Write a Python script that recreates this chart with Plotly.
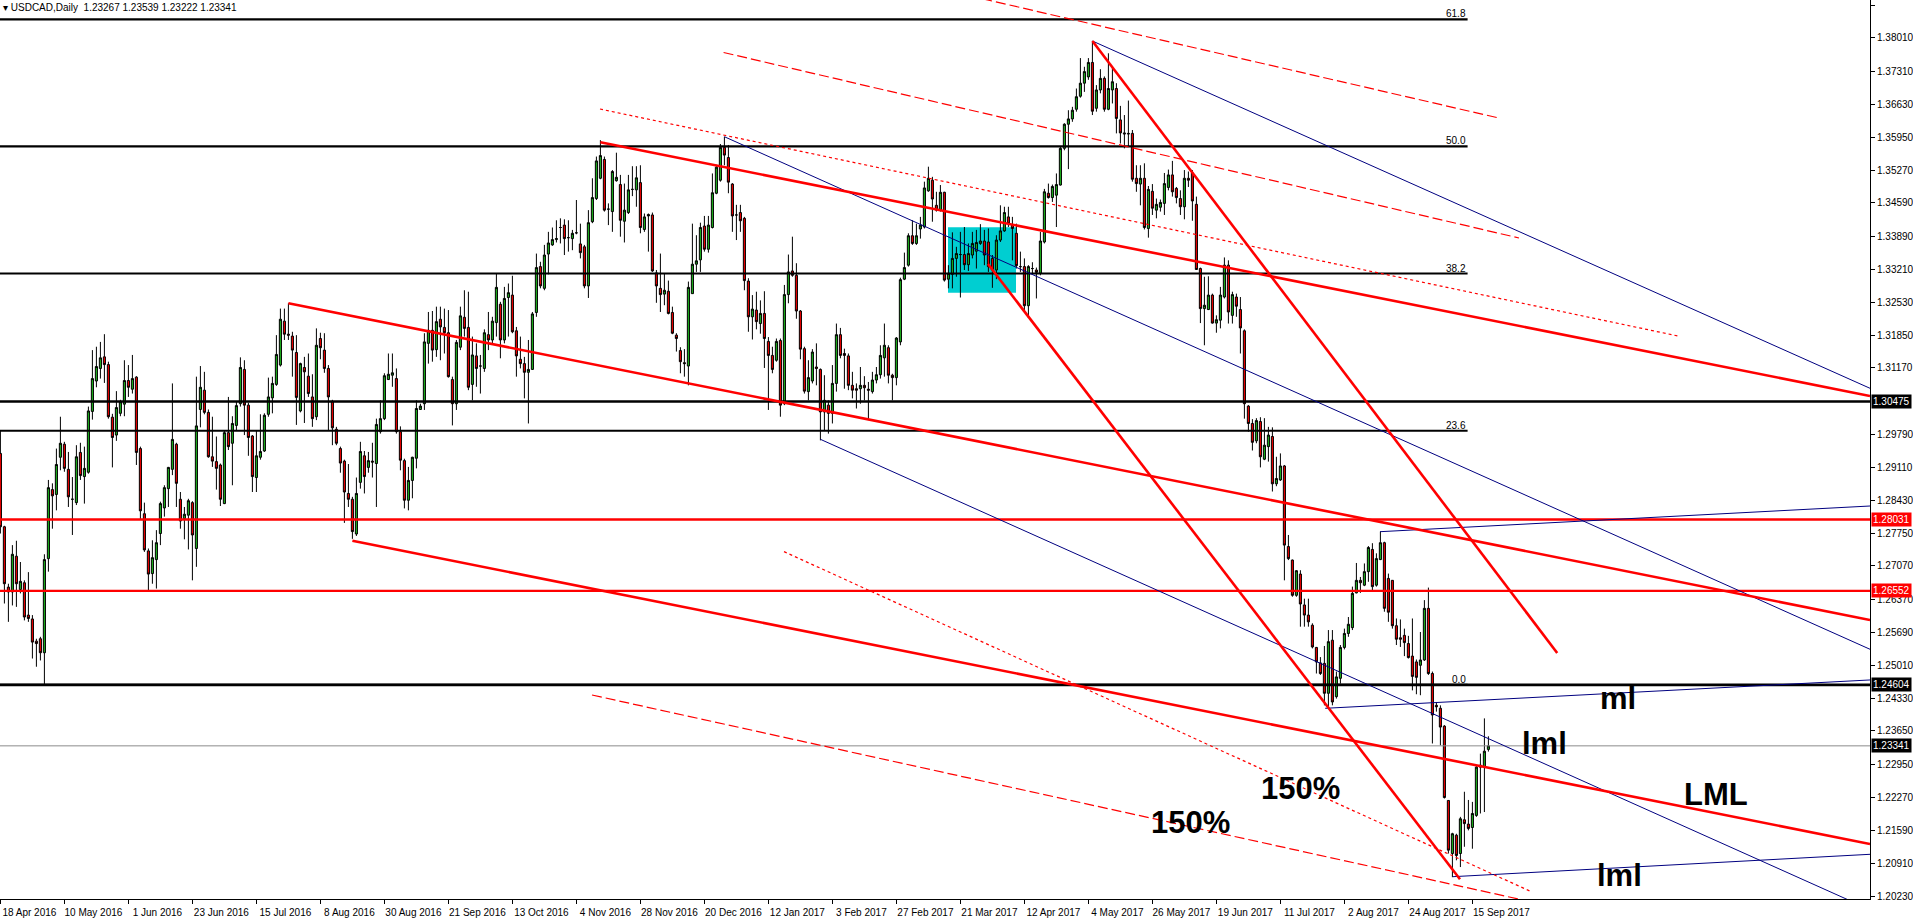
import plotly.graph_objects as go

# ---- axis labels -------------------------------------------------------
tick_labels = ["18 Apr 2016", "10 May 2016", "1 Jun 2016", "23 Jun 2016", "15 Jul 2016",
               "8 Aug 2016", "30 Aug 2016", "21 Sep 2016", "13 Oct 2016", "4 Nov 2016",
               "28 Nov 2016", "20 Dec 2016", "12 Jan 2017", "3 Feb 2017", "27 Feb 2017",
               "21 Mar 2017", "12 Apr 2017", "4 May 2017", "26 May 2017", "19 Jun 2017",
               "11 Jul 2017", "2 Aug 2017", "24 Aug 2017", "15 Sep 2017"]
tick_bars = [0, 16, 32, 48, 64, 80, 96, 112, 128, 144, 160, 176, 192, 208, 224, 240,
             256, 272, 288, 304, 320, 336, 352, 368]
price_ticks = [1.38690, 1.38010, 1.37310, 1.36630, 1.35950, 1.35270, 1.34590, 1.33890,
               1.33210, 1.32530, 1.31850, 1.31170, 1.29790, 1.29110, 1.28430, 1.27750,
               1.27070, 1.26370, 1.25690, 1.25010, 1.24330, 1.23650, 1.22950, 1.22270,
               1.21590, 1.20910, 1.20230]

# ---- USDCAD daily candles (bar 0 = 18 Apr 2016) ---------------------------
opens = [
    1.2940, 1.2788, 1.2663, 1.2653, 1.2727, 1.2658, 1.2672, 1.2605, 1.2597, 1.2551,
    1.2556, 1.2527, 1.2722, 1.2865, 1.2855, 1.2932, 1.2959, 1.2907, 1.2845, 1.2838,
    1.2942, 1.2892, 1.2901, 1.3027, 1.3090, 1.3116, 1.3140, 1.3124, 1.3015, 1.2978,
    1.3023, 1.3042, 1.3091, 1.3073, 1.3098, 1.2950, 1.2815, 1.2738, 1.2691, 1.2720,
    1.2774, 1.2827, 1.2867, 1.2907, 1.2959, 1.2845, 1.2805, 1.2812, 1.2838, 1.2743,
    1.3031, 1.3071, 1.3025, 1.2933, 1.2923, 1.2916, 1.2836, 1.2983, 1.2961, 1.2998,
    1.3043, 1.3114, 1.3040, 1.2976, 1.2890, 1.2932, 1.2945, 1.3021, 1.3055, 1.3083,
    1.3123, 1.3214, 1.3187, 1.3183, 1.3149, 1.3028, 1.3118, 1.3100, 1.3057, 1.3016,
    1.3178, 1.3154, 1.3116, 1.3047, 1.2990, 1.2950, 1.2924, 1.2857, 1.2845, 1.2773,
    1.2880, 1.2935, 1.2911, 1.2924, 1.2919,
    1.2985, 1.3012, 1.3093, 1.3102, 1.3095, 1.2985, 1.2925, 1.2843, 1.2884, 1.2930,
    1.3031, 1.3043, 1.3168, 1.3195, 1.3155, 1.3218, 1.3201, 1.3190, 1.3093, 1.3043,
    1.3160, 1.3222, 1.3201, 1.3083, 1.3142, 1.3121, 1.3116, 1.3186, 1.3175, 1.3211,
    1.3249, 1.3175, 1.3263, 1.3268, 1.3194, 1.3135, 1.3126, 1.3108, 1.3114, 1.3232,
    1.3327, 1.3282, 1.3353, 1.3372, 1.3383, 1.3408, 1.3413, 1.3387, 1.3385, 1.3397,
    1.3374, 1.3368, 1.3287, 1.3420, 1.3468, 1.3510, 1.3549, 1.3446, 1.3441, 1.3505,
    1.3497, 1.3421, 1.3439, 1.3487, 1.3486, 1.3501, 1.3404, 1.3435, 1.3434, 1.3314,
    1.3282, 1.3270, 1.3276, 1.3232, 1.3185, 1.3153, 1.3128, 1.3121, 1.3271, 1.3332,
    1.3341, 1.3411, 1.3363, 1.3408, 1.3479, 1.3506, 1.3574, 1.3553, 1.3498, 1.3434,
    1.3439, 1.3427,
    1.3297, 1.3223, 1.3237, 1.3209, 1.3230, 1.3172, 1.3143, 1.3133, 1.3174, 1.3043,
    1.3269, 1.3318, 1.3309, 1.3235, 1.3157, 1.3068, 1.3090, 1.3119, 1.3114, 1.3026,
    1.3040, 1.3023, 1.3085, 1.3186, 1.3147, 1.3142, 1.3081, 1.3074, 1.3074, 1.3081,
    1.3073, 1.3068, 1.3092, 1.3103, 1.3138, 1.3159, 1.3102, 1.3097, 1.3171, 1.3301,
    1.3330, 1.3391, 1.3375, 1.3405, 1.3409, 1.3484, 1.3506, 1.3454, 1.3444, 1.3481,
    1.3301, 1.3311, 1.3344, 1.3352, 1.3352, 1.3331, 1.3351, 1.3359, 1.3375, 1.3380,
    1.3378, 1.3344, 1.3320, 1.3382, 1.3401, 1.3430, 1.3413, 1.3396, 1.3327, 1.3327,
    1.3246, 1.3323, 1.3320, 1.3313, 1.3378, 1.3479, 1.3470, 1.3475, 1.3496, 1.3572,
    1.3622, 1.3633, 1.3653, 1.3680, 1.3707, 1.3720, 1.3750, 1.3655, 1.3693, 1.3717,
    1.3653, 1.3693, 1.3696,
    1.3631, 1.3604, 1.3603, 1.3603, 1.3510, 1.3498, 1.3510, 1.3406, 1.3483, 1.3444,
    1.3450, 1.3458, 1.3491, 1.3517, 1.3489, 1.3468, 1.3451, 1.3510, 1.3521, 1.3456,
    1.3323, 1.3240, 1.3238, 1.3268, 1.3210, 1.3216, 1.3264, 1.3330, 1.3226, 1.3264,
    1.3238, 1.3194,
    1.3038, 1.3002, 1.2966, 1.3006, 1.2928, 1.2954, 1.2975, 1.2877, 1.2885, 1.2914,
    1.2747, 1.2719, 1.2646, 1.2690, 1.2626, 1.2605, 1.2584, 1.2538, 1.2506, 1.2505,
    1.2443, 1.2553, 1.2436, 1.2474, 1.2538, 1.2567, 1.2579, 1.2651, 1.2677, 1.2667,
    1.2695, 1.2741, 1.2667, 1.2720, 1.2755, 1.2681, 1.2677, 1.2583, 1.2558, 1.2563,
    1.2546, 1.2520, 1.2508, 1.2501, 1.2512, 1.2619, 1.2484, 1.2418, 1.2412, 1.2375,
    1.2221, 1.2111, 1.2149, 1.2111, 1.2181, 1.2172, 1.2165, 1.2190, 1.2294, 1.2290,
    1.23267,
]
highs = [
    1.2988, 1.2790, 1.2670, 1.2750, 1.2759, 1.2715, 1.2677, 1.2694, 1.2605, 1.2556,
    1.2560, 1.2731, 1.2885, 1.2878, 1.2950, 1.3016, 1.2964, 1.2943, 1.2891, 1.2957,
    1.2962, 1.2954, 1.3037, 1.3154, 1.3161, 1.3171, 1.3187, 1.3130, 1.3022, 1.3069,
    1.3051, 1.3133, 1.3123, 1.3144, 1.3100, 1.2954, 1.2838, 1.2743, 1.2760, 1.2781,
    1.2840, 1.2874, 1.2912, 1.3085, 1.2962, 1.2860, 1.2829, 1.2846, 1.2841, 1.3099,
    1.3121, 1.3109, 1.3031, 1.3016, 1.2975, 1.2919, 1.2988, 1.3057, 1.3017, 1.3047,
    1.3139, 1.3133, 1.3045, 1.2978, 1.2988, 1.3021, 1.3023, 1.3097, 1.3099, 1.3185,
    1.3240, 1.3240, 1.3251, 1.3192, 1.3185, 1.3128, 1.3140, 1.3147, 1.3104, 1.3199,
    1.3190, 1.3189, 1.3123, 1.3051, 1.2995, 1.2954, 1.2927, 1.2918, 1.2850, 1.2890,
    1.2964, 1.2945, 1.2943, 1.2962, 1.3012,
    1.3050, 1.3106, 1.3147, 1.3147, 1.3116, 1.2996, 1.2929, 1.2912, 1.2933, 1.3050,
    1.3043, 1.3189, 1.3233, 1.3235, 1.3244, 1.3244, 1.3240, 1.3237, 1.3099, 1.3175,
    1.3244, 1.3278, 1.3275, 1.3182, 1.3168, 1.3144, 1.3197, 1.3233, 1.3223, 1.3313,
    1.3254, 1.3285, 1.3292, 1.3308, 1.3202, 1.3182, 1.3140, 1.3175, 1.3233, 1.3354,
    1.3337, 1.3372, 1.3399, 1.3408, 1.3423, 1.3427, 1.3425, 1.3423, 1.3403, 1.3465,
    1.3416, 1.3372, 1.3444, 1.3510, 1.3555, 1.3589, 1.3555, 1.3458, 1.3527, 1.3563,
    1.3517, 1.3499, 1.3517, 1.3535, 1.3535, 1.3537, 1.3437, 1.3437, 1.3439, 1.3320,
    1.3354, 1.3313, 1.3298, 1.3244, 1.3189, 1.3160, 1.3156, 1.3296, 1.3416, 1.3392,
    1.3418, 1.3432, 1.3432, 1.3520, 1.3538, 1.3581, 1.3596, 1.3579, 1.3500, 1.3455,
    1.3455, 1.3430,
    1.3303, 1.3268, 1.3275, 1.3257, 1.3276, 1.3181, 1.3161, 1.3178, 1.3178, 1.3289,
    1.3352, 1.3389, 1.3334, 1.3237, 1.3161, 1.3133, 1.3156, 1.3168, 1.3116, 1.3102,
    1.3050, 1.3123, 1.3209, 1.3200, 1.3157, 1.3147, 1.3109, 1.3085, 1.3119, 1.3100,
    1.3088, 1.3109, 1.3119, 1.3164, 1.3209, 1.3164, 1.3105, 1.3181, 1.3304, 1.3356,
    1.3396, 1.3423, 1.3416, 1.3430, 1.3503, 1.3534, 1.3513, 1.3482, 1.3496, 1.3482,
    1.3330, 1.3398, 1.3368, 1.3399, 1.3409, 1.3375, 1.3399, 1.3403, 1.3415, 1.3403,
    1.3406, 1.3351, 1.3392, 1.3454, 1.3451, 1.3451, 1.3430, 1.3416, 1.3358, 1.3344,
    1.3330, 1.3336, 1.3325, 1.3399, 1.3488, 1.3499, 1.3497, 1.3520, 1.3575, 1.3624,
    1.3651, 1.3658, 1.3696, 1.3759, 1.3741, 1.3759, 1.3793, 1.3703, 1.3736, 1.3721,
    1.3769, 1.3741, 1.3707,
    1.3660, 1.3641, 1.3671, 1.3610, 1.3537, 1.3537, 1.3541, 1.3494, 1.3498, 1.3468,
    1.3466, 1.3521, 1.3528, 1.3546, 1.3492, 1.3485, 1.3527, 1.3524, 1.3527, 1.3472,
    1.3325, 1.3306, 1.3307, 1.3271, 1.3226, 1.3285, 1.3346, 1.3340, 1.3275, 1.3271,
    1.3264, 1.3197,
    1.3040, 1.3011, 1.3013, 1.3015, 1.3013, 1.2995, 1.2994, 1.2933, 1.2940, 1.2916,
    1.2771, 1.2720, 1.2698, 1.2698, 1.2639, 1.2639, 1.2588, 1.2539, 1.2518, 1.2541,
    1.2574, 1.2574, 1.2488, 1.2543, 1.2577, 1.2601, 1.2664, 1.2713, 1.2684, 1.2712,
    1.2748, 1.2754, 1.2733, 1.2778, 1.2757, 1.2691, 1.2677, 1.2598, 1.2596, 1.2577,
    1.2562, 1.2598, 1.2513, 1.2570, 1.2636, 1.2662, 1.2488, 1.2425, 1.2418, 1.2377,
    1.2221, 1.2154, 1.2152, 1.2187, 1.2239, 1.2222, 1.2218, 1.2294, 1.2318, 1.2391,
    1.23539,
]
lows = [
    1.2774, 1.2629, 1.2591, 1.2625, 1.2622, 1.2650, 1.2594, 1.2591, 1.2515, 1.2498,
    1.2511, 1.2460, 1.2695, 1.2784, 1.2822, 1.2905, 1.2902, 1.2829, 1.2771, 1.2833,
    1.2885, 1.2836, 1.2898, 1.3010, 1.3077, 1.3095, 1.3086, 1.3012, 1.2911, 1.2966,
    1.3017, 1.3017, 1.3057, 1.3064, 1.2916, 1.2802, 1.2736, 1.2653, 1.2670, 1.2660,
    1.2750, 1.2809, 1.2829, 1.2895, 1.2829, 1.2784, 1.2762, 1.2741, 1.2677, 1.2705,
    1.2994, 1.3021, 1.2931, 1.2912, 1.2865, 1.2831, 1.2835, 1.2947, 1.2874, 1.2988,
    1.3037, 1.2978, 1.2935, 1.2860, 1.2860, 1.2927, 1.2943, 1.3016, 1.3023, 1.3080,
    1.3120, 1.3175, 1.3175, 1.3099, 1.2999, 1.3025, 1.3003, 1.3057, 1.2995, 1.3009,
    1.3135, 1.3107, 1.2988, 1.2957, 1.2957, 1.2900, 1.2796, 1.2829, 1.2763, 1.2769,
    1.2867, 1.2857, 1.2900, 1.2890, 1.2829,
    1.2981, 1.3009, 1.3092, 1.3078, 1.2981, 1.2905, 1.2826, 1.2822, 1.2847, 1.2909,
    1.3030, 1.3030, 1.3126, 1.3130, 1.3140, 1.3133, 1.3147, 1.3097, 1.2998, 1.3030,
    1.3154, 1.3182, 1.3071, 1.3050, 1.3078, 1.3064, 1.3109, 1.3154, 1.3168, 1.3182,
    1.3137, 1.3168, 1.3182, 1.3189, 1.3099, 1.3116, 1.3054, 1.3002, 1.3113, 1.3223,
    1.3282, 1.3278, 1.3311, 1.3370, 1.3377, 1.3375, 1.3351, 1.3358, 1.3361, 1.3394,
    1.3344, 1.3282, 1.3262, 1.3417, 1.3465, 1.3508, 1.3441, 1.3413, 1.3399, 1.3503,
    1.3389, 1.3377, 1.3436, 1.3473, 1.3451, 1.3396, 1.3399, 1.3358, 1.3316, 1.3252,
    1.3233, 1.3247, 1.3228, 1.3187, 1.3151, 1.3106, 1.3099, 1.3081, 1.3271, 1.3316,
    1.3316, 1.3358, 1.3356, 1.3406, 1.3477, 1.3503, 1.3537, 1.3479, 1.3399, 1.3382,
    1.3399, 1.3278,
    1.3192, 1.3176, 1.3197, 1.3188, 1.3117, 1.3030, 1.3106, 1.3130, 1.3016, 1.3040,
    1.3251, 1.3306, 1.3219, 1.3135, 1.3064, 1.3050, 1.3085, 1.3081, 1.2967, 1.2988,
    1.2981, 1.3002, 1.3068, 1.3137, 1.3074, 1.3071, 1.3054, 1.3033, 1.3043, 1.3050,
    1.3009, 1.3064, 1.3085, 1.3095, 1.3099, 1.3085, 1.3050, 1.3081, 1.3164, 1.3299,
    1.3327, 1.3372, 1.3372, 1.3385, 1.3406, 1.3482, 1.3420, 1.3441, 1.3441, 1.3296,
    1.3282, 1.3282, 1.3306, 1.3263, 1.3320, 1.3318, 1.3344, 1.3323, 1.3372, 1.3330,
    1.3316, 1.3283, 1.3301, 1.3378, 1.3399, 1.3409, 1.3340, 1.3323, 1.3316, 1.3237,
    1.3221, 1.3313, 1.3261, 1.3309, 1.3375, 1.3468, 1.3461, 1.3409, 1.3495, 1.3568,
    1.3529, 1.3627, 1.3648, 1.3677, 1.3689, 1.3714, 1.3641, 1.3648, 1.3686, 1.3648,
    1.3651, 1.3665, 1.3603,
    1.3582, 1.3572, 1.3575, 1.3503, 1.3482, 1.3454, 1.3404, 1.3387, 1.3434, 1.3427,
    1.3441, 1.3434, 1.3485, 1.3472, 1.3458, 1.3434, 1.3425, 1.3492, 1.3422, 1.3320,
    1.3210, 1.3164, 1.3237, 1.3209, 1.3190, 1.3199, 1.3261, 1.3209, 1.3209, 1.3223,
    1.3147, 1.3012,
    1.2985, 1.2946, 1.2961, 1.2911, 1.2926, 1.2923, 1.2861, 1.2872, 1.2883, 1.2677,
    1.2719, 1.2643, 1.2643, 1.2581, 1.2581, 1.2581, 1.2536, 1.2484, 1.2481, 1.2418,
    1.2413, 1.2418, 1.2432, 1.2463, 1.2534, 1.2560, 1.2574, 1.2650, 1.2651, 1.2665,
    1.2674, 1.2653, 1.2664, 1.2719, 1.2612, 1.2591, 1.2577, 1.2543, 1.2539, 1.2520,
    1.2515, 1.2449, 1.2441, 1.2439, 1.2510, 1.2481, 1.2339, 1.2405, 1.2335, 1.2225,
    1.2111, 1.2062, 1.2097, 1.2083, 1.2125, 1.2159, 1.2121, 1.2187, 1.2194, 1.2197,
    1.23222,
]
closes = [
    1.2788, 1.2670, 1.2653, 1.2731, 1.2670, 1.2675, 1.2601, 1.2598, 1.2549, 1.2546,
    1.2527, 1.2720, 1.2869, 1.2852, 1.2917, 1.2961, 1.2909, 1.2850, 1.2845, 1.2933,
    1.2894, 1.2909, 1.3028, 1.3095, 1.3120, 1.3138, 1.3124, 1.3016, 1.2973, 1.3035,
    1.3047, 1.3091, 1.3077, 1.3095, 1.2942, 1.2821, 1.2740, 1.2690, 1.2724, 1.2755,
    1.2836, 1.2869, 1.2911, 1.2969, 1.2878, 1.2800, 1.2814, 1.2842, 1.2771, 1.2997,
    1.3077, 1.3025, 1.2933, 1.2924, 1.2909, 1.2845, 1.2983, 1.2954, 1.3002, 1.3039,
    1.3118, 1.3040, 1.2973, 1.2892, 1.2935, 1.2944, 1.3019, 1.3057, 1.3085, 1.3145,
    1.3218, 1.3187, 1.3185, 1.3154, 1.3056, 1.3126, 1.3109, 1.3064, 1.3012, 1.3164,
    1.3159, 1.3116, 1.3057, 1.2993, 1.2961, 1.2920, 1.2860, 1.2845, 1.2778, 1.2857,
    1.2944, 1.2892, 1.2925, 1.2922, 1.3000,
    1.3012, 1.3101, 1.3104, 1.3107, 1.2985, 1.2926, 1.2843, 1.2884, 1.2932, 1.3033,
    1.3038, 1.3171, 1.3195, 1.3154, 1.3213, 1.3202, 1.3190, 1.3099, 1.3043, 1.3170,
    1.3225, 1.3199, 1.3077, 1.3144, 1.3116, 1.3121, 1.3190, 1.3175, 1.3214, 1.3284,
    1.3175, 1.3261, 1.3273, 1.3192, 1.3142, 1.3126, 1.3108, 1.3114, 1.3229, 1.3325,
    1.3287, 1.3351, 1.3376, 1.3383, 1.3385, 1.3408, 1.3385, 1.3387, 1.3396, 1.3397,
    1.3356, 1.3287, 1.3418, 1.3470, 1.3546, 1.3557, 1.3444, 1.3446, 1.3524, 1.3512,
    1.3423, 1.3444, 1.3486, 1.3487, 1.3511, 1.3408, 1.3430, 1.3432, 1.3318, 1.3287,
    1.3269, 1.3278, 1.3230, 1.3189, 1.3178, 1.3130, 1.3126, 1.3284, 1.3332, 1.3339,
    1.3408, 1.3363, 1.3413, 1.3480, 1.3533, 1.3574, 1.3558, 1.3502, 1.3432, 1.3434,
    1.3422, 1.3298,
    1.3223, 1.3239, 1.3213, 1.3230, 1.3178, 1.3143, 1.3114, 1.3172, 1.3040, 1.3269,
    1.3316, 1.3309, 1.3235, 1.3156, 1.3069, 1.3097, 1.3150, 1.3116, 1.3026, 1.3050,
    1.3023, 1.3085, 1.3186, 1.3143, 1.3143, 1.3081, 1.3071, 1.3071, 1.3081, 1.3076,
    1.3071, 1.3092, 1.3103, 1.3143, 1.3164, 1.3102, 1.3097, 1.3179, 1.3300, 1.3325,
    1.3391, 1.3375, 1.3391, 1.3413, 1.3490, 1.3510, 1.3467, 1.3444, 1.3481, 1.3299,
    1.3313, 1.3344, 1.3354, 1.3352, 1.3331, 1.3354, 1.3375, 1.3377, 1.3380, 1.3351,
    1.3327, 1.3320, 1.3382, 1.3401, 1.3439, 1.3416, 1.3406, 1.3329, 1.3327, 1.3246,
    1.3327, 1.3323, 1.3315, 1.3380, 1.3482, 1.3470, 1.3493, 1.3497, 1.3572, 1.3622,
    1.3633, 1.3651, 1.3679, 1.3707, 1.3731, 1.3750, 1.3649, 1.3693, 1.3717, 1.3653,
    1.3696, 1.3710, 1.3634,
    1.3604, 1.3602, 1.3602, 1.3508, 1.3499, 1.3510, 1.3408, 1.3487, 1.3448, 1.3456,
    1.3460, 1.3499, 1.3517, 1.3482, 1.3470, 1.3451, 1.3510, 1.3506, 1.3463, 1.3321,
    1.3240, 1.3247, 1.3268, 1.3210, 1.3217, 1.3268, 1.3330, 1.3233, 1.3269, 1.3245,
    1.3200, 1.3043,
    1.3002, 1.2963, 1.3008, 1.2933, 1.2957, 1.2978, 1.2877, 1.2888, 1.2914, 1.2750,
    1.2722, 1.2646, 1.2697, 1.2628, 1.2605, 1.2591, 1.2539, 1.2508, 1.2484, 1.2443,
    1.2550, 1.2425, 1.2477, 1.2538, 1.2567, 1.2586, 1.2650, 1.2677, 1.2672, 1.2695,
    1.2745, 1.2664, 1.2722, 1.2755, 1.2619, 1.2611, 1.2583, 1.2555, 1.2555, 1.2548,
    1.2517, 1.2478, 1.2476, 1.2512, 1.2619, 1.2484, 1.2398, 1.2415, 1.2373, 1.2227,
    1.2118, 1.2152, 1.2107, 1.2183, 1.2173, 1.2163, 1.2194, 1.2290, 1.2290, 1.2323,
    1.23341,
]
bars = list(range(len(closes)))

# ---- drawn objects (bar, price) ----------------------------------------
levels_black = [1.30475, 1.24604]
levels_red = [1.28031, 1.26552]
bid = 1.23341
fib_low, fib_high = 1.24604, 1.46916
fib_levels = [0.0, 23.6, 38.2, 50.0, 61.8]
fib_end = 366.8

red_trend = [(150, 1.35845, 467.4, 1.30589),
             (72, 1.32510, 467.4, 1.25948),
             (88, 1.27591, 467.4, 1.21308),
             (273, 1.37944, 389.2, 1.25265),
             (246.9, 1.33324, 364.9, 1.20576)]
blue_trend = [(273, 1.37944, 467.4, 1.30749),
              (181, 1.35961, 467.4, 1.25342),
              (205, 1.29692, 467.4, 1.19948),
              (344.9, 1.27778, 467.4, 1.28310),
              (331.2, 1.24119, 467.4, 1.24706),
              (363.1, 1.20630, 467.4, 1.21094)]
red_dashed = [(225, 1.39212, 374.9, 1.36343),
              (180.8, 1.37706, 379.65, 1.33863),
              (147.9, 1.24394, 382.9, 1.20106)]
red_dotted = [(149.9, 1.36535, 419.4, 1.31832),
              (195.9, 1.27364, 382.9, 1.20313)]

box_bars = [236.9, 253.9]
box_prices = [1.32730, 1.34084]

price_boxes = [(1.30475, "black"), (1.28031, "#ff0000"), (1.26552, "#ff0000"),
               (1.24604, "black"), (1.23341, "black")]

FONT = "Liberation Sans"
RED = "#ff0000"
NAVY = "#000080"

fig = go.Figure()

fig.add_trace(go.Candlestick(
    x=bars, open=opens, high=highs, low=lows, close=closes,
    increasing=dict(line=dict(color="black", width=1), fillcolor="#1db11d"),
    decreasing=dict(line=dict(color="black", width=1), fillcolor="#ee0000"),
    whiskerwidth=0, hoverinfo="skip", showlegend=False))


def seg(x0, y0, x1, y1, color, width, dash="solid"):
    fig.add_trace(go.Scatter(x=[x0, x1], y=[y0, y1], mode="lines",
                             line=dict(color=color, width=width, dash=dash),
                             hoverinfo="skip", showlegend=False))


# fibonacci levels
for lv in fib_levels:
    p = fib_low + lv / 100 * (fib_high - fib_low)
    seg(-2, p, fib_end, p, "black", 2.2)
    fig.add_annotation(x=fib_end, y=p, text=f"{lv:.1f}", showarrow=False,
                       xanchor="right", yanchor="bottom", yshift=-2,
                       font=dict(family=FONT, size=10, color="black"))

for p in levels_black:
    seg(-2, p, 470, p, "black", 2.6)
for p in levels_red:
    seg(-2, p, 470, p, RED, 2.4)
seg(-2, bid, 470, bid, "#8c8c8c", 1)

for x0, y0, x1, y1 in blue_trend:
    seg(x0, y0, x1, y1, NAVY, 1)
for x0, y0, x1, y1 in red_dashed:
    seg(x0, y0, x1, y1, RED, 1.2, "10px,4px")
for x0, y0, x1, y1 in red_dotted:
    seg(x0, y0, x1, y1, RED, 1.2, "3px,3px")
for x0, y0, x1, y1 in red_trend:
    seg(x0, y0, x1, y1, RED, 2.6)

fig.add_shape(type="rect", x0=box_bars[0], x1=box_bars[1], y0=box_prices[0], y1=box_prices[1],
              xref="x", yref="y", fillcolor="#00ced1", line=dict(width=0), layer="below")

# price boxes on the right scale
for p, c in price_boxes:
    fig.add_annotation(x=1, xref="paper", y=p, yref="y", text=f"{p:.5f}", showarrow=False,
                       xanchor="left", xshift=1, bgcolor=c, borderpad=1,
                       font=dict(family=FONT, size=10, color="white"))

# big labels
for txt, bx, py in [("ml", 404.3, 1.24312), ("lml", 385.95, 1.23394), ("LML", 428.8, 1.22333),
                    ("lml", 404.7, 1.20645), ("150%", 324.9, 1.22461), ("150%", 297.45, 1.21745)]:
    fig.add_annotation(x=bx, y=py, text=f"<b>{txt}</b>", showarrow=False,
                       xanchor="center", yanchor="middle",
                       font=dict(family=FONT, size=31, color="black"))

fig.add_annotation(x=0, y=1, xref="paper", yref="paper", xanchor="left", yanchor="top",
                   xshift=1, yshift=0, showarrow=False,
                   text="▾ USDCAD,Daily  1.23267 1.23539 1.23222 1.23341",
                   font=dict(family=FONT, size=10, color="black"))

fig.update_layout(
    width=1913, height=921,
    margin=dict(l=0, r=43, t=0, b=22),
    paper_bgcolor="white", plot_bgcolor="white",
    boxgap=0.25, hovermode=False, dragmode=False, showlegend=False,
    xaxis=dict(range=[-0.1, 467.4], tickmode="array", tickvals=tick_bars, ticktext=tick_labels,
               ticks="outside", ticklen=4, tickcolor="black", tickwidth=1, tickangle=0,
               ticklabelshift=29, ticklabeloverflow="allow",
               showline=True, linecolor="black", linewidth=1, showgrid=False, zeroline=False,
               rangeslider=dict(visible=False), fixedrange=True,
               tickfont=dict(family=FONT, size=10, color="black")),
    yaxis=dict(side="right", range=[1.20168, 1.387936], tickmode="array", tickvals=price_ticks,
               tickformat=".5f", ticks="outside", ticklen=4, tickcolor="black",
               showline=True, linecolor="black", linewidth=1, showgrid=False, zeroline=False,
               fixedrange=True, tickfont=dict(family=FONT, size=10, color="black")),
)

fig.write_html("out.html", config={"displayModeBar": False},
               post_script="document.body.style.margin='0';document.body.style.overflow='hidden';")
